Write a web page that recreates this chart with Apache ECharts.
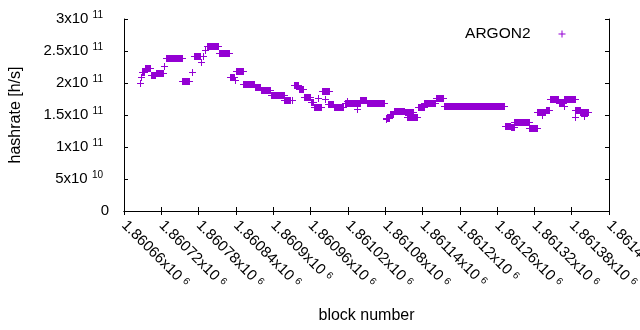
<!DOCTYPE html>
<html>
<head>
<meta charset="utf-8">
<script src="https://cdn.jsdelivr.net/npm/echarts@6/dist/echarts.min.js"></script>
<style>
  html, body { margin: 0; padding: 0; background: #fff; }
  #chart { width: 640px; height: 330px; }
</style>
</head>
<body>
<div id="chart"></div>
<script>
// runs of blocks with the same hashrate (a single block when start == end)
const runStart = [
  1860686, 1860688, 1860689, 1860694, 1860703, 1860711, 1860725, 1860727, 1860754, 1860770,
  1860773, 1860784, 1860787, 1860790, 1860793, 1860812, 1860830, 1860838, 1860840, 1860852,
  1860871, 1860880, 1860897, 1860918, 1860930, 1860933, 1860941, 1860950, 1860960, 1860965,
  1860972, 1860979, 1860984, 1860988, 1860998, 1861015, 1861019, 1861034, 1861040, 1861050,
  1861081, 1861081, 1861087, 1861094, 1861112, 1861115, 1861133, 1861134, 1861143, 1861162,
  1861174, 1861272, 1861282, 1861288, 1861312, 1861325, 1861332, 1861338, 1861345, 1861359,
  1861367, 1861368, 1861386, 1861386, 1861394, 1861400
]
const runEnd = [
  1860686, 1860688, 1860692, 1860702, 1860710, 1860723, 1860725, 1860753, 1860764, 1860770,
  1860782, 1860784, 1860787, 1860790, 1860811, 1860829, 1860837, 1860838, 1860851, 1860869,
  1860879, 1860895, 1860917, 1860927, 1860930, 1860940, 1860948, 1860959, 1860964, 1860977,
  1860972, 1860989, 1860984, 1860996, 1861013, 1861039, 1861019, 1861034, 1861049, 1861078,
  1861086, 1861081, 1861093, 1861110, 1861125, 1861131, 1861133, 1861142, 1861160, 1861173,
  1861271, 1861281, 1861287, 1861311, 1861324, 1861337, 1861332, 1861344, 1861358, 1861366,
  1861367, 1861385, 1861393, 1861386, 1861406, 1861400
]
const hashrate = [
  200.5e9, 208.9e9, 216.7e9, 223.0e9, 212.0e9, 215.0e9, 226.0e9, 238.6e9, 203.0e9, 216.7e9,
  242.7e9, 232.3e9, 241.7e9, 251.6e9, 257.3e9, 246.4e9, 208.9e9, 204.7e9, 218.3e9, 198.0e9,
  193.3e9, 188.6e9, 180.8e9, 173.0e9, 173.4e9, 196.9e9, 190.2e9, 177.7e9, 169.8e9, 162.0e9,
  177.0e9, 187.5e9, 175.0e9, 166.7e9, 162.0e9, 168.3e9, 171.9e9, 158.9e9, 173.4e9, 168.3e9,
  145.8e9, 143.3e9, 151.0e9, 156.3e9, 154.2e9, 146.4e9, 162.0e9, 163.0e9, 168.3e9, 176.0e9,
  163.6e9, 133.3e9, 131.3e9, 139.5e9, 129.2e9, 154.2e9, 150.0e9, 157.8e9, 175.0e9, 168.3e9,
  164.5e9, 174.5e9, 157.8e9, 147.0e9, 155.2e9, 148.4e9
]

const xMin = 1860660
const xMax = 1861440
const xStep = 60
const yMin = 0
const yMax = 3e11
const yStep = 5e10

const purple = '#9400d3'
const font = 'Liberation Sans, Arial, sans-serif'

// "1.5x10^11" style labels
function sci (v, sup, tail) {
  if (v === 0) return '0'
  const e = Math.floor(Math.log10(v) + 1e-9)
  const m = +(v / Math.pow(10, e)).toFixed(6)
  return m + 'x10 {' + sup + '|' + e + '}' + (tail ? '{' + tail + '| }' : '')
}

// one run = a row of "+" marks, drawn as the union of their arms
function renderItem (params, api) {
  const a = api.coord([api.value(0), api.value(2)])
  const b = api.coord([api.value(1), api.value(2)])
  const x0 = Math.round(a[0])
  const x1 = Math.round(b[0])
  const y = Math.round(a[1])
  return {
    type: 'group',
    children: [
      { type: 'rect', shape: { x: x0, y: y - 3, width: x1 - x0 + 1, height: 7 }, style: { fill: purple } },
      { type: 'rect', shape: { x: x0 - 3, y: y, width: x1 - x0 + 7, height: 1 }, style: { fill: purple } },
    ],
  }
}

const tickStyle = { show: true, inside: true, length: 4, lineStyle: { color: '#000', width: 1 } }
const lineStyle = { show: true, lineStyle: { color: '#000', width: 1 } }

const chart = echarts.init(document.getElementById('chart'), null, { renderer: 'canvas' })

chart.setOption({
  animation: false,
  backgroundColor: '#fff',
  textStyle: { fontFamily: font },
  grid: { left: 124, right: 31, top: 19, bottom: 119, containLabel: false, outerBoundsMode: 'none' },
  legend: {
    data: ['ARGON2'],
    right: 69.5,
    top: 21,
    align: 'right',
    icon: 'path://M0,3H7V4H0ZM3,0H4V7H3Z',
    itemWidth: 7,
    itemHeight: 7,
    textStyle: { fontFamily: font, fontSize: 15.5, color: '#000', lineHeight: 16, padding: [0, 23, 0, 0] },
  },
  xAxis: [
    {
      type: 'value',
      min: xMin,
      max: xMax,
      interval: xStep,
      position: 'bottom',
      name: 'block number',
      nameLocation: 'middle',
      nameGap: 97,
      nameTextStyle: { fontFamily: font, fontSize: 16, color: '#000', lineHeight: 16 },
      axisLine: lineStyle,
      axisTick: tickStyle,
      splitLine: { show: false },
      axisLabel: {
        rotate: -45,
        margin: 12,
        color: '#000',
        fontFamily: font,
        fontSize: 15,
        showMinLabel: true,
        showMaxLabel: true,
        hideOverlap: false,
        formatter: v => sci(v, 'sx'),
        rich: {
          sx: { fontSize: 10, lineHeight: 12, verticalAlign: 'top', color: '#000', fontFamily: font },
        },
      },
    },
    {
      type: 'value',
      min: xMin,
      max: xMax,
      interval: xStep,
      position: 'top',
      axisLine: lineStyle,
      axisTick: tickStyle,
      axisLabel: { show: false },
      splitLine: { show: false },
    },
  ],
  yAxis: [
    {
      type: 'value',
      min: yMin,
      max: yMax,
      interval: yStep,
      position: 'left',
      name: 'hashrate [h/s]',
      nameLocation: 'middle',
      nameGap: 100,
      nameTextStyle: { fontFamily: font, fontSize: 16, color: '#000', lineHeight: 16 },
      axisLine: lineStyle,
      axisTick: tickStyle,
      splitLine: { show: false },
      axisLabel: {
        margin: 15,
        color: '#000',
        fontFamily: font,
        fontSize: 15,
        lineHeight: 18,
        formatter: v => sci(v, 'sy', 'tl'),
        rich: {
          sy: { fontSize: 10, lineHeight: 12, verticalAlign: 'top', color: '#000', fontFamily: font },
          tl: { fontSize: 10, width: 6, color: '#000', fontFamily: font },
        },
      },
    },
    {
      type: 'value',
      min: yMin,
      max: yMax,
      interval: yStep,
      position: 'right',
      axisLine: lineStyle,
      axisTick: tickStyle,
      axisLabel: { show: false },
      splitLine: { show: false },
    },
  ],
  series: [
    {
      name: 'ARGON2',
      type: 'custom',
      xAxisIndex: 0,
      yAxisIndex: 0,
      itemStyle: { color: purple },
      renderItem: renderItem,
      encode: { x: [0, 1], y: 2 },
      data: runStart.map((s, i) => [s, runEnd[i], hashrate[i]]),
    },
  ],
})
</script>
</body>
</html>
